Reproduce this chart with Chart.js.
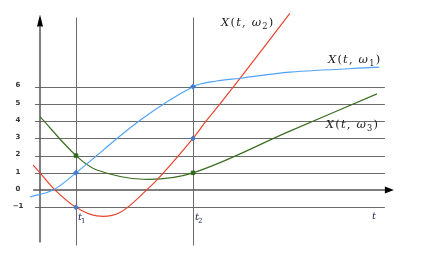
<!DOCTYPE html>
<html>
<head>
    <title>Sample paths</title>
    <script src="https://cdn.jsdelivr.net/npm/chart.js"></script>
    <style>
        body { margin: 0; padding: 0; background: #fff; }
        #wrap { width: 430px; height: 266px; }
    </style>
</head>
<body>
<div id="wrap"><canvas id="paths" width="430" height="266"></canvas></div>
<script>
// sample paths X(t, w1), X(t, w2), X(t, w3)
const tW1 = [-0.28, 0.36, 1, 2.78, 4.25, 4.9, 5.56, 6.94, 9.42];
const xW1 = [-0.4, 0, 1, 4.05, 6, 6.33, 6.49, 6.84, 7.13];

const tW2 = [-0.19, 0, 0.42, 1, 1.58, 2.22, 2.96, 3.43, 4.25, 4.61, 5, 5.56, 6.94];
const xW2 = [1.45, 1, 0, -1, -1.5, -1.3, 0, 1, 3, 4, 5, 6.49, 10.26];

const tW3 = [0, 1, 1.6, 2.86, 4.25, 6.94, 9.36];
const xW3 = [4.26, 2, 1.15, 0.63, 1, 3.42, 5.58];

// the two fixed times and the values seen there
const markT = [1, 4.25];
const markW1 = [1, 6];
const markW2 = [-1, 3];
const markW3 = [2, 1];

const tickValues = [-1, 0, 1, 2, 3, 4, 5, 6];
const timeLabels = ['1', '2'];

const pts = (ts, vs) => ts.map((t, i) => ({ x: t, y: vs[i] }));

const blue = '#4fa3f7';
const red = '#e8442f';
const green = '#3c6e22';

function mathLabel(ctx, px, py, sub, size) {
    const parts = [['X', 'italic'], ['(', ''], ['t', 'italic'], [',', ''], [' ', ''], ['\u03c9', 'italic'], [sub, 'sub'], [')', '']];
    let cx = px;
    parts.forEach(([s, st]) => {
        const fs = st === 'sub' ? size * 0.72 : size;
        ctx.font = (st === 'italic' ? 'italic ' : '') + fs + 'px "DejaVu Serif"';
        ctx.fillText(s, cx, st === 'sub' ? py + 3 : py);
        cx += ctx.measureText(s).width + 1.2;
    });
}

const guides = {
    id: 'guides',
    beforeDatasetsDraw(chart) {
        const { ctx, scales: { x, y } } = chart;
        const X = v => x.getPixelForValue(v);
        const Y = v => Math.round(y.getPixelForValue(v)) + 0.5;
        ctx.save();
        // horizontal levels
        ctx.strokeStyle = '#6a6a6a';
        ctx.lineWidth = 1;
        tickValues.filter(v => v !== 0).forEach(v => {
            ctx.beginPath();
            ctx.moveTo(X(-0.14), Y(v));
            ctx.lineTo(X(9.58), Y(v));
            ctx.stroke();
        });
        // verticals at t1, t2
        markT.forEach(t => {
            const px = Math.round(X(t)) + 0.5;
            ctx.beginPath();
            ctx.moveTo(px, Y(10.04));
            ctx.lineTo(px, Y(-3.19));
            ctx.stroke();
        });
        // axes
        ctx.strokeStyle = '#555';
        ctx.lineWidth = 1.5;
        const ax = X(0), ay = y.getPixelForValue(0);
        ctx.beginPath();
        ctx.moveTo(ax, Y(-3.01));
        ctx.lineTo(ax, Y(9.5));
        ctx.moveTo(X(-0.19), ay);
        ctx.lineTo(X(9.6), ay);
        ctx.stroke();
        ctx.fillStyle = '#000';
        ctx.beginPath();
        ctx.moveTo(ax, Y(10.2));
        ctx.lineTo(ax - 3, Y(9.5));
        ctx.lineTo(ax + 3, Y(9.5));
        ctx.fill();
        ctx.beginPath();
        ctx.moveTo(X(9.83), ay);
        ctx.lineTo(X(9.58), ay - 3.5);
        ctx.lineTo(X(9.58), ay + 3.5);
        ctx.fill();
        // tick labels
        ctx.fillStyle = '#333';
        ctx.font = 'bold 7px "DejaVu Sans"';
        ctx.textAlign = 'center';
        ctx.textBaseline = 'middle';
        tickValues.forEach(v => {
            ctx.fillText(v < 0 ? '\u2212' + (-v) : String(v), X(-0.61), y.getPixelForValue(v) - 1);
        });
        ctx.restore();
    },
    afterDatasetsDraw(chart) {
        const { ctx, scales: { x, y } } = chart;
        const X = v => x.getPixelForValue(v);
        const Y = v => y.getPixelForValue(v);
        ctx.save();
        ctx.fillStyle = '#1a1a1a';
        ctx.textAlign = 'left';
        ctx.textBaseline = 'alphabetic';
        mathLabel(ctx, X(5.03), Y(9.5), '2', 11.5);
        mathLabel(ctx, X(8.0), Y(7.35), '1', 11.5);
        mathLabel(ctx, X(7.94), Y(3.58), '3', 11.5);
        // time labels
        ctx.fillStyle = '#1c2550';
        markT.forEach((t, i) => {
            ctx.font = 'italic 10px "DejaVu Serif"';
            ctx.fillText('t', X(t) + 2, Y(-1.72));
            ctx.font = '7px "DejaVu Serif"';
            ctx.fillText(timeLabels[i], X(t) + 5, Y(-1.9));
        });
        ctx.font = 'italic 10px "DejaVu Serif"';
        ctx.fillText('t', X(9.22), Y(-1.68));
        ctx.restore();
    }
};

function pathSet(data, color) {
    return {
        data: data, borderColor: color, borderWidth: 1.2, showLine: true,
        pointRadius: 0, tension: 0.35, fill: false
    };
}
function markSet(vals, color, style) {
    return {
        data: pts(markT, vals), backgroundColor: color, borderColor: color,
        pointRadius: 2.5, pointStyle: style, showLine: false
    };
}

new Chart(document.getElementById('paths'), {
    type: 'scatter',
    data: {
        datasets: [
            markSet(markW1, '#3f80d6', 'rectRot'),
            markSet(markW2, '#4a78c4', 'rectRot'),
            markSet(markW3, '#2f6a1c', 'rect'),
            pathSet(pts(tW1, xW1), blue),
            pathSet(pts(tW2, xW2), red),
            pathSet(pts(tW3, xW3), green)
        ]
    },
    options: {
        responsive: false,
        animation: false,
        layout: { padding: 0, autoPadding: false },
        plugins: { legend: { display: false }, tooltip: { enabled: false } },
        scales: {
            x: { type: 'linear', min: -1.111, max: 10.833, display: false },
            y: { type: 'linear', min: -4.405, max: 11.03, display: false }
        }
    },
    plugins: [guides]
});
</script>
</body>
</html>
